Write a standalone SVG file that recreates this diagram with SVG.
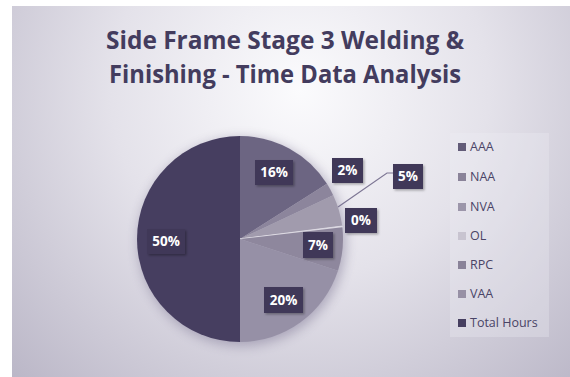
<svg xmlns="http://www.w3.org/2000/svg" width="570" height="377" viewBox="0 0 570 377">
<defs>
<radialGradient id="bg" cx="300" cy="90" r="420" gradientUnits="userSpaceOnUse">
<stop offset="0" stop-color="#fbfbfd"/>
<stop offset="0.45" stop-color="#e4e2ea"/>
<stop offset="1" stop-color="#b8b4c5"/>
</radialGradient>
<filter id="sh" x="-30%" y="-30%" width="160%" height="160%">
<feGaussianBlur stdDeviation="6"/>
</filter>
<filter id="bs" x="-30%" y="-30%" width="160%" height="160%">
<feDropShadow dx="1.5" dy="1.5" stdDeviation="1.2" flood-color="#000" flood-opacity="0.3"/>
</filter>
<style>
.lbl rect{fill:#3f3859;filter:url(#bs)}
.lbl text{fill:#ffffff;font-family:"Open Sans","Liberation Sans",sans-serif;font-weight:bold;font-size:13.5px;text-anchor:middle}
.leg text{fill:#4a4466;font-family:"Open Sans","Liberation Sans",sans-serif;font-size:12.5px}
.title{fill:#433c5e;font-family:"Open Sans","Liberation Sans",sans-serif;font-weight:bold;font-size:25px;text-anchor:middle}
</style>
</defs>
<rect x="0" y="0" width="570" height="377" fill="#ffffff"/>
<rect x="12" y="6" width="558" height="371" fill="url(#bg)"/>
<g id="title">
<text class="title" x="285" y="49" textLength="358" lengthAdjust="spacingAndGlyphs">Side Frame Stage 3 Welding &amp;</text>
<text class="title" x="285" y="83" textLength="352" lengthAdjust="spacingAndGlyphs">Finishing - Time Data Analysis</text>
</g>
<circle cx="242" cy="242" r="104" fill="#6f6888" opacity="0.45" filter="url(#sh)"/>
<g id="pie">
<path id="slice-aaa" d="M240,239 L240,136 A103,103 0 0 1 326.96,183.81 Z" fill="#6c6582"/>
<path id="slice-naa" d="M240,239 L326.96,183.81 A103,103 0 0 1 333.19,195.14 Z" fill="#8c859c"/>
<path id="slice-nva" d="M240,239 L333.19,195.14 A103,103 0 0 1 342.19,226.09 Z" fill="#a19bad"/>
<path id="slice-ol" d="M240,239 L342.19,226.09 A103,103 0 0 1 342.34,227.34 Z" fill="#dcd9e2" stroke="#dcd9e2" stroke-width="1"/>
<path id="slice-rpc" d="M240,239 L342.34,227.34 A103,103 0 0 1 337.96,270.83 Z" fill="#8e879d"/>
<path id="slice-vaa" d="M240,239 L337.96,270.83 A103,103 0 0 1 240,342 Z" fill="#9690a6"/>
<path id="slice-total" d="M240,239 L240,342 A103,103 0 0 1 240,136 Z" fill="#463e60"/>
</g>
<g id="connectors">
<polyline points="338,207 387,173 393,173" fill="none" stroke="#7d7694" stroke-width="1.2"/>
</g>
<g id="label-aaa" class="lbl"><rect x="255" y="160" width="38" height="25"/><text x="274" y="177">16%</text></g>
<g id="label-naa" class="lbl"><rect x="332" y="158" width="31" height="25"/><text x="347.5" y="175">2%</text></g>
<g id="label-nva" class="lbl"><rect x="393" y="164" width="30" height="25"/><text x="408" y="181">5%</text></g>
<g id="label-ol" class="lbl"><rect x="345" y="208" width="32" height="25"/><text x="361" y="225">0%</text></g>
<g id="label-rpc" class="lbl"><rect x="303" y="232" width="30" height="26"/><text x="318" y="250">7%</text></g>
<g id="label-vaa" class="lbl"><rect x="264" y="287" width="39" height="26"/><text x="283.5" y="305">20%</text></g>
<g id="label-total" class="lbl"><rect x="147" y="229" width="38" height="25"/><text x="166" y="246">50%</text></g>
<g id="legend" class="leg">
<rect x="450" y="133" width="99" height="204" fill="#f0eff4" opacity="0.3"/>
<g id="leg-aaa"><rect x="458" y="143" width="8" height="8" fill="#625b78"/><text x="470" y="151">AAA</text></g>
<g id="leg-naa"><rect x="458" y="173" width="8" height="8" fill="#8a8399"/><text x="470" y="181">NAA</text></g>
<g id="leg-nva"><rect x="458" y="203" width="8" height="8" fill="#9c96aa"/><text x="470" y="211">NVA</text></g>
<g id="leg-ol"><rect x="458" y="232" width="8" height="8" fill="#c8c4d0"/><text x="470" y="240">OL</text></g>
<g id="leg-rpc"><rect x="458" y="261" width="8" height="8" fill="#8a8399"/><text x="470" y="269">RPC</text></g>
<g id="leg-vaa"><rect x="458" y="290" width="8" height="8" fill="#9790a5"/><text x="470" y="298">VAA</text></g>
<g id="leg-total"><rect x="458" y="319" width="8" height="8" fill="#463f60"/><text x="470" y="327">Total Hours</text></g>
</g>
</svg>
